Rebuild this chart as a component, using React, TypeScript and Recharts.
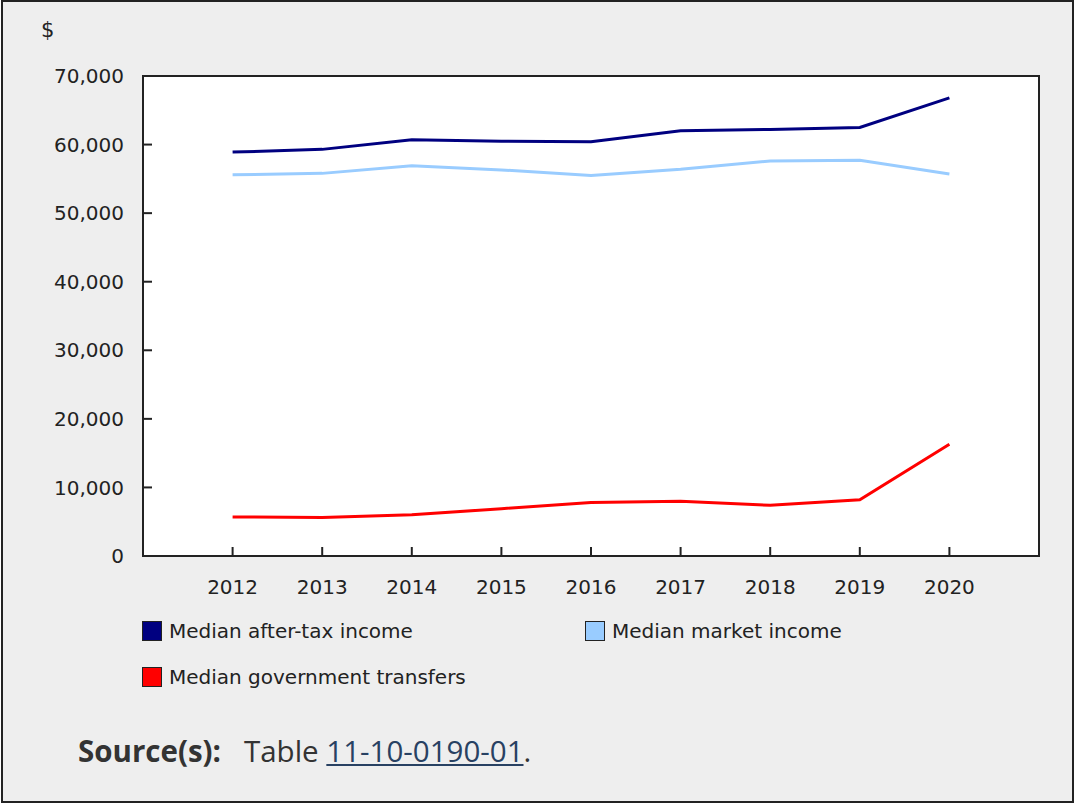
import React from 'react'
import { LineChart, Line, XAxis, YAxis, CartesianGrid, ReferenceArea } from 'recharts'

const years = [2012, 2013, 2014, 2015, 2016, 2017, 2018, 2019, 2020]
const afterTax = [58900, 59300, 60700, 60500, 60400, 62000, 62200, 62500, 66800]
const marketIncome = [55600, 55800, 56900, 56300, 55500, 56400, 57600, 57700, 55700]
const govTransfers = [5700, 5600, 6000, 6900, 7800, 8000, 7400, 8200, 16300]
const yTicks = [0, 10000, 20000, 30000, 40000, 50000, 60000, 70000]

const series = [
  { key: 'afterTax', name: 'Median after-tax income', color: '#000080' },
  { key: 'market', name: 'Median market income', color: '#99ccff' },
  { key: 'transfers', name: 'Median government transfers', color: '#ff0000' },
]

const data = years.map((year, i) => ({
  year,
  afterTax: afterTax[i],
  market: marketIncome[i],
  transfers: govTransfers[i],
}))

const axisFont = { fontFamily: 'DejaVu Sans, Verdana, sans-serif', fontSize: 20, fill: '#222' }

export default function App() {
  // legend slots: two columns, then wrap
  const legendPos = [
    { left: 142, top: 621 },
    { left: 585, top: 621 },
    { left: 142, top: 667 },
  ]

  return (
    <div style={{ position: 'absolute', left: 0, top: 0, width: 1080, height: 812, background: '#fff' }}>
      <div
        style={{
          position: 'absolute',
          left: 1,
          top: 0,
          width: 1073,
          height: 803,
          boxSizing: 'border-box',
          border: '2px solid #222',
          background: '#eeeeee',
        }}
      />
      <div
        style={{
          position: 'absolute',
          left: 41,
          top: 18,
          fontFamily: axisFont.fontFamily,
          fontSize: 21,
          color: '#222',
        }}
      >
        $
      </div>
      <div style={{ position: 'absolute', left: 0, top: 0 }}>
        <LineChart width={1080} height={620} data={data} margin={{ top: 76, right: 41, bottom: 24, left: 0 }}>
          <CartesianGrid fill="#ffffff" horizontal={false} vertical={false} />
          <XAxis
            dataKey="year"
            type="number"
            domain={[2011, 2021]}
            ticks={years}
            height={40}
            tickSize={-9}
            tickMargin={33}
            tick={axisFont}
            axisLine={{ stroke: '#222', strokeWidth: 2 }}
            tickLine={{ stroke: '#222', strokeWidth: 2 }}
          />
          <YAxis
            type="number"
            domain={[0, 70000]}
            ticks={yTicks}
            width={143}
            tickSize={-9}
            tickMargin={28}
            tick={axisFont}
            tickFormatter={(v: number) => v.toLocaleString('en-US')}
            axisLine={{ stroke: '#222', strokeWidth: 2 }}
            tickLine={{ stroke: '#222', strokeWidth: 2 }}
          />
          <ReferenceArea x1={2011} x2={2021} y1={0} y2={70000} fill="none" stroke="#222" strokeWidth={2} />
          {series.map((s) => (
            <Line
              key={s.key}
              dataKey={s.key}
              name={s.name}
              stroke={s.color}
              strokeWidth={3}
              dot={false}
              activeDot={false}
              type="linear"
              isAnimationActive={false}
            />
          ))}
        </LineChart>
      </div>
      {series.map((s, i) => (
        <div
          key={s.key}
          style={{
            position: 'absolute',
            left: legendPos[i].left,
            top: legendPos[i].top,
            display: 'flex',
            alignItems: 'center',
            fontFamily: axisFont.fontFamily,
            fontSize: 20,
            color: '#222',
            whiteSpace: 'nowrap',
          }}
        >
          <div
            style={{
              width: 18,
              height: 18,
              background: s.color,
              border: '1px solid #222',
              marginRight: 7,
            }}
          />
          <span style={{ lineHeight: '20px' }}>{s.name}</span>
        </div>
      ))}
      <div
        style={{
          position: 'absolute',
          left: 78,
          top: 733,
          fontFamily: '"Open Sans", "Noto Sans", sans-serif',
          fontSize: 29.5,
          lineHeight: '36px',
          color: '#333',
          whiteSpace: 'nowrap',
        }}
      >
        <span style={{ fontWeight: 700 }}>Source(s):</span>
        <span>{'\u00a0\u00a0 '}Table </span>
        <span style={{ color: '#284162', textDecoration: 'underline' }}>11-10-0190-01</span>
        <span>.</span>
      </div>
    </div>
  )
}
